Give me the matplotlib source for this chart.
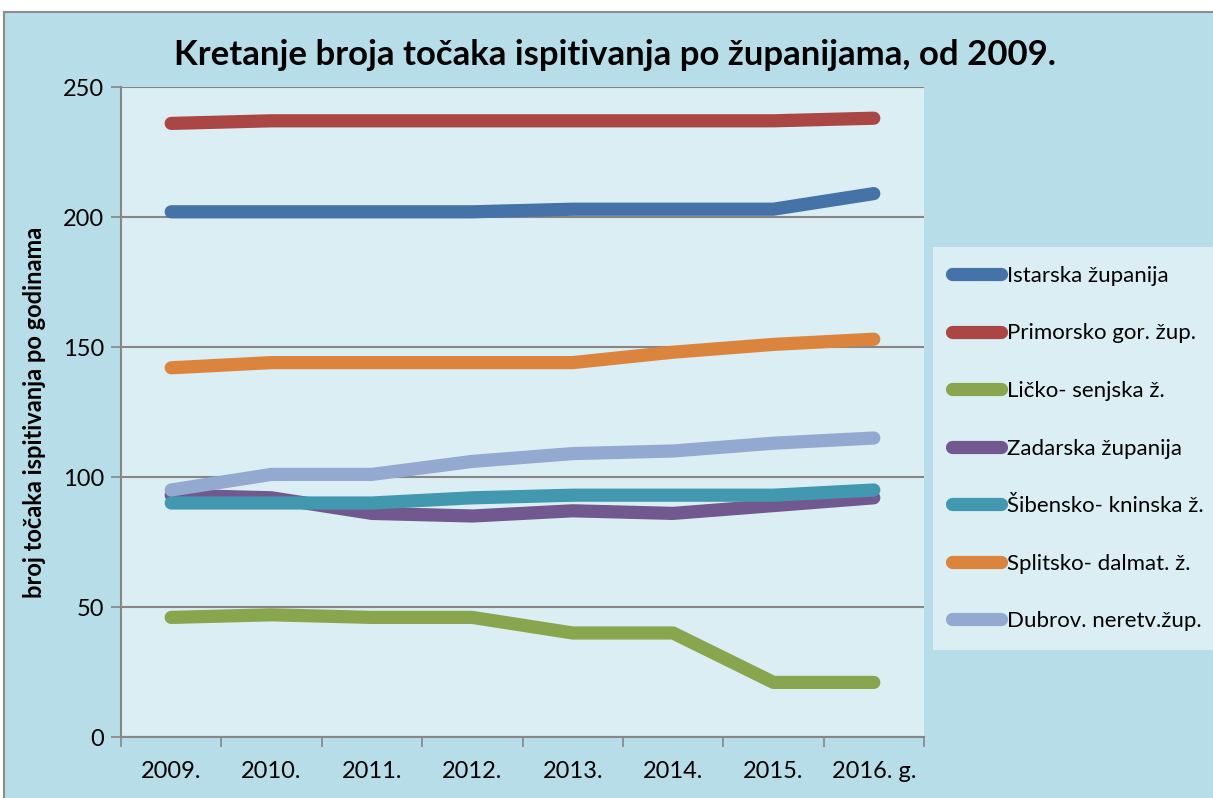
import matplotlib
matplotlib.use('Agg')
import matplotlib.pyplot as plt
from matplotlib.patches import Rectangle

plt.rcParams['font.family'] = ['Lato', 'DejaVu Sans']

# podaci
godine = ['2009.', '2010.', '2011.', '2012.', '2013.', '2014.', '2015.', '2016. g.']
zupanije = ['Istarska županija', 'Primorsko gor. žup.', 'Ličko- senjska ž.',
            'Zadarska županija', 'Šibensko- kninska ž.', 'Splitsko- dalmat. ž.',
            'Dubrov. neretv.žup.']
istarska = [202, 202, 202, 202, 203, 203, 203, 209]
primorsko = [236, 237, 237, 237, 237, 237, 237, 238]
licko = [46, 47, 46, 46, 40, 40, 21, 21]
zadarska = [93, 92, 86, 85, 87, 86, 89, 92]
sibensko = [90, 90, 90, 92, 93, 93, 93, 95]
splitsko = [142, 144, 144, 144, 144, 148, 151, 153]
dubrovnik = [95, 101, 101, 106, 109, 110, 113, 115]
serije = [istarska, primorsko, licko, zadarska, sibensko, splitsko, dubrovnik]
boje = ['#4572A7', '#AA4643', '#89A54E', '#71588F', '#4198AF', '#DB843D', '#93A9CF']

fig = plt.figure(figsize=(12.13, 7.98), dpi=100, facecolor='white')

# pozadina grafikona s rubom
fig.patches.append(Rectangle((4 / 1213, -0.1), 1.2, 1 - 12 / 798 + 0.1,
                             transform=fig.transFigure, facecolor='#B7DEE8',
                             edgecolor='#8C8C8C', linewidth=1.5, zorder=-1))

ax = fig.add_axes([121 / 1213, 1 - 737 / 798, (924 - 121) / 1213, (737 - 87) / 798])
ax.set_facecolor('#DBEEF3')

x = list(range(len(godine)))
for s, naziv, c in zip(serije, zupanije, boje):
    ax.plot(x, s, color=c, linewidth=9.5, solid_capstyle='round',
            solid_joinstyle='round', label=naziv, zorder=3)

ax.set_ylim(0, 250)
ax.set_yticks([0, 50, 100, 150, 200, 250])
ax.set_xlim(-0.5, 7.5)
ax.set_xticks([i - 0.5 for i in range(9)])
ax.set_xticklabels([])
ax.set_xticks(x, minor=True)
ax.set_xticklabels(godine, minor=True)
ax.tick_params(axis='x', which='major', length=7, color='#868686', width=1.2)
ax.tick_params(axis='x', which='minor', length=0, pad=17, labelsize=17)
ax.tick_params(axis='y', length=7, color='#868686', width=1.2, labelsize=17, pad=5)

ax.grid(axis='y', color='#868686', linewidth=1.5, zorder=1)
ax.set_axisbelow(True)
for sp in ['top', 'right']:
    ax.spines[sp].set_visible(False)
for sp in ['left', 'bottom']:
    ax.spines[sp].set_color('#868686')
    ax.spines[sp].set_linewidth(1.5)

ax.set_ylabel('broj točaka ispitivanja po godinama', fontsize=17, fontweight='bold', labelpad=12)
fig.text(615 / 1213, 1 - 55 / 798, 'Kretanje broja točaka ispitivanja po županijama, od 2009.',
         ha='center', va='center', fontsize=25, fontweight='bold')

leg = fig.legend(loc='upper left', bbox_to_anchor=(933 / 1213, 1 - 247 / 798),
                 frameon=True, fancybox=False, facecolor='#DBEEF3', edgecolor='none',
                 framealpha=1, fontsize=16, handlelength=2.2, handletextpad=0.3,
                 labelspacing=1.69, borderpad=0.85, borderaxespad=0)

fig.savefig('out.png', dpi=100)
